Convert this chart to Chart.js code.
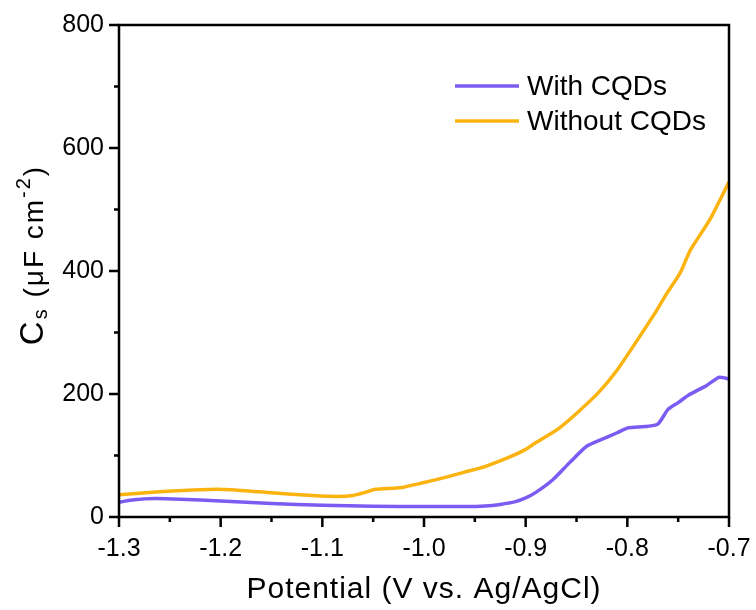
<!DOCTYPE html>
<html>
<head>
<meta charset="utf-8">
<script src="https://cdn.jsdelivr.net/npm/chart.js@4/dist/chart.umd.min.js"></script>
<style>
  html, body { margin: 0; padding: 0; background: #fff; }
  canvas { display: block; }
</style>
</head>
<body>
<canvas id="chart" width="756" height="610" style="width:756px;height:610px"></canvas>
<script>
// --- DATA ---
const withV = [-1.30, -1.285, -1.265, -1.24, -1.20, -1.15, -1.10, -1.05, -1.00, -0.96, -0.94, -0.925, -0.91, -0.90,
  -0.89, -0.873, -0.857, -0.84, -0.824, -0.81, -0.799, -0.783, -0.77, -0.76, -0.75, -0.74, -0.722, -0.71, -0.704, -0.70];
const withC = [24, 28, 30, 29, 26, 22, 19, 17.5, 17, 17, 18, 20.5, 25, 31,
  40, 61, 88, 115, 127, 137, 145, 147, 151, 175, 186, 198, 214, 227, 226, 224];

const withoutV = [-1.30, -1.26, -1.22, -1.19, -1.15, -1.11, -1.085, -1.07, -1.058, -1.048, -1.022, -1.00, -0.98, -0.96,
  -0.94, -0.915, -0.90, -0.89, -0.869, -0.849, -0.828, -0.81, -0.79, -0.773, -0.761, -0.748, -0.738, -0.719, -0.70];
const withoutC = [36, 41, 44.5, 44.5, 39.5, 35, 33.5, 35, 40, 45, 48, 56, 64, 73,
  82, 98, 110, 121, 142, 170, 203, 239, 288, 331, 364, 397, 434, 483, 545];

const labels = ["With CQDs", "Without CQDs"];
const colors = ["#7b5cf2", "#fbb30f"];

const xTicks = [-1.3, -1.2, -1.1, -1.0, -0.9, -0.8, -0.7];
const yTicks = [0, 200, 400, 600, 800];

const FONT = '"Liberation Sans", Arial, sans-serif';

function points(xs, ys) {
  return xs.map((x, i) => ({ x: x, y: ys[i] }));
}

function midpoints(arr) {
  const out = [];
  for (let i = 0; i < arr.length - 1; i++) out.push((arr[i] + arr[i + 1]) / 2);
  return out;
}

// --- FRAME, TICKS, LEGEND, TITLES ---
const frame = {
  id: 'frame',
  afterDraw(chart) {
    const { ctx, chartArea: a, scales: { x, y } } = chart;
    ctx.save();
    ctx.strokeStyle = '#000';
    ctx.lineWidth = 2.5;
    ctx.strokeRect(a.left, a.top, a.right - a.left, a.bottom - a.top);

    ctx.beginPath();
    xTicks.forEach(v => { const p = x.getPixelForValue(v); ctx.moveTo(p, a.bottom); ctx.lineTo(p, a.bottom + 10); });
    midpoints(xTicks).forEach(v => { const p = x.getPixelForValue(v); ctx.moveTo(p, a.bottom); ctx.lineTo(p, a.bottom + 5); });
    yTicks.forEach(v => { const p = y.getPixelForValue(v); ctx.moveTo(a.left, p); ctx.lineTo(a.left - 10, p); });
    midpoints(yTicks).forEach(v => { const p = y.getPixelForValue(v); ctx.moveTo(a.left, p); ctx.lineTo(a.left - 5, p); });
    ctx.stroke();

    // legend
    ctx.font = '28px ' + FONT;
    ctx.textBaseline = 'middle';
    ctx.textAlign = 'left';
    chart.data.datasets.forEach((ds, i) => {
      const ly = 86 + i * 35;
      ctx.strokeStyle = ds.borderColor;
      ctx.lineWidth = 3.5;
      ctx.beginPath();
      ctx.moveTo(455, ly);
      ctx.lineTo(519, ly);
      ctx.stroke();
      ctx.fillStyle = '#000';
      ctx.fillText(ds.label, 527, ly + 1);
    });

    // x title
    ctx.font = '30px ' + FONT;
    ctx.textBaseline = 'alphabetic';
    ctx.textAlign = 'center';
    ctx.letterSpacing = '1px';
    ctx.fillText('Potential (V vs. Ag/AgCl)', (a.left + a.right) / 2, 598);

    // y title: C_s (μF cm^-2)
    ctx.letterSpacing = '2px';
    ctx.textAlign = 'left';
    const parts = [
      { t: 'C', f: 33, dy: 0 },
      { t: 's', f: 20, dy: 4 },
      { t: ' (μF cm', f: 28, dy: 0 },
      { t: '-2', f: 20, dy: -13 },
      { t: ')', f: 28, dy: 0 }
    ];
    let total = 0;
    parts.forEach(p => { ctx.font = p.f + 'px ' + FONT; p.w = ctx.measureText(p.t).width; total += p.w; });
    ctx.translate(43, 255);
    ctx.rotate(-Math.PI / 2);
    let cx = -total / 2;
    parts.forEach(p => {
      ctx.font = p.f + 'px ' + FONT;
      ctx.fillText(p.t, cx, p.dy);
      cx += p.w;
    });
    ctx.restore();
  }
};

// --- CHART ---
new Chart(document.getElementById('chart'), {
  type: 'line',
  data: {
    datasets: [
      { label: labels[0], data: points(withV, withC), borderColor: colors[0], borderWidth: 3.5, pointRadius: 0, tension: 0.2 },
      { label: labels[1], data: points(withoutV, withoutC), borderColor: colors[1], borderWidth: 3.5, pointRadius: 0, tension: 0.2 }
    ]
  },
  options: {
    responsive: false,
    animation: false,
    layout: { padding: { top: 25, right: 27, left: 0, bottom: 0 } },
    plugins: { legend: { display: false }, tooltip: { enabled: false } },
    scales: {
      x: {
        type: 'linear', min: -1.3, max: -0.7,
        afterBuildTicks: s => { s.ticks = xTicks.map(v => ({ value: v })); },
        afterFit: s => { s.height = 93; s.paddingLeft = 0; s.paddingRight = 0; },
        grid: { display: false, drawTicks: false },
        border: { display: false },
        ticks: { color: '#000', font: { family: FONT, size: 25 }, padding: 17, maxRotation: 0, autoSkip: false,
          callback: v => v.toFixed(1) }
      },
      y: {
        min: 0, max: 800,
        afterBuildTicks: s => { s.ticks = yTicks.map(v => ({ value: v })); },
        afterFit: s => { s.width = 119; s.paddingTop = 0; s.paddingBottom = 0; },
        grid: { display: false, drawTicks: false },
        border: { display: false },
        ticks: { color: '#000', font: { family: FONT, size: 25 }, padding: 15 }
      }
    }
  },
  plugins: [frame]
});
</script>
</body>
</html>
